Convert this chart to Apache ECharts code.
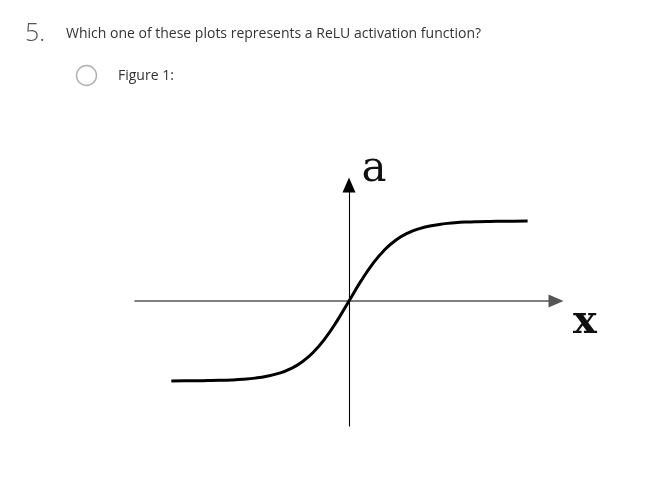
<!DOCTYPE html>
<html>
<head>
<meta charset="utf-8">
<script src="https://cdn.jsdelivr.net/npm/echarts@6/dist/echarts.min.js"></script>
<style>
html,body{margin:0;padding:0;background:#fff;}
#chart{width:646px;height:481px;}
</style>
</head>
<body>
<div id="chart"></div>
<script>
// Values (x in curve units, a = activation)
var xValues = [-3.78, -3.5, -3.25, -3, -2.75, -2.5, -2.25, -2, -1.75, -1.5, -1.25, -1, -0.75, -0.5, -0.25, 0,
               0.25, 0.5, 0.75, 1, 1.25, 1.5, 1.75, 2, 2.25, 2.5, 2.75, 3, 3.25, 3.5, 3.8];
var aValues = [-0.999, -0.998, -0.997, -0.995, -0.992, -0.987, -0.978, -0.964, -0.941, -0.905, -0.848, -0.762, -0.635, -0.462, -0.245, 0,
               0.245, 0.462, 0.635, 0.762, 0.848, 0.905, 0.941, 0.964, 0.978, 0.987, 0.992, 0.995, 0.997, 0.998, 0.999];
var questionNumber = '5.';
var questionText = 'Which one of these plots represents a ReLU activation function?';
var optionText = 'Figure 1:';
var xName = 'x';
var yName = 'a';

var curve = xValues.map(function (x, i) { return [x, aValues[i]]; });

var chart = echarts.init(document.getElementById('chart'));
chart.setOption({
  backgroundColor: '#ffffff',
  animation: false,
  grid: { left: 135, right: 90, top: 185, bottom: 55, containLabel: false },
  xAxis: {
    type: 'value', min: -4.553, max: 4.404,
    axisLine: { show: true, onZero: true, symbol: ['none', 'triangle'], symbolSize: [13, 15],
      lineStyle: { color: '#555', width: 1.6 } },
    axisTick: { show: false }, axisLabel: { show: false }, splitLine: { show: false }
  },
  yAxis: {
    type: 'value', min: -1.5625, max: 1.45,
    axisLine: { show: true, onZero: true, symbol: ['none', 'triangle'], symbolSize: [13, 15],
      lineStyle: { color: '#000', width: 1.1 } },
    axisTick: { show: false }, axisLabel: { show: false }, splitLine: { show: false }
  },
  series: [{
    type: 'line', data: curve, smooth: true, showSymbol: false,
    lineStyle: { color: '#000', width: 3 }, z: 3
  }],
  graphic: [
    { type: 'text', left: 25, top: 21, style: { text: questionNumber, font: '300 25px "Open Sans"', fill: '#555' } },
    { type: 'text', x: 66, y: 34, style: { text: questionText, font: '14px "Open Sans"', fill: '#333', verticalAlign: 'middle' } },
    { type: 'circle', shape: { cx: 86.5, cy: 75.5, r: 10 }, style: { fill: '#fff', stroke: '#b0b0b0', lineWidth: 1.4 } },
    { type: 'text', x: 118, y: 76, style: { text: optionText, font: '14px "Open Sans"', fill: '#333', verticalAlign: 'middle' } },
    { type: 'text', x: 374, y: 191, style: { text: yName, font: '42px "DejaVu Serif"', fill: '#111', align: 'center', verticalAlign: 'bottom' } },
    { type: 'text', x: 585, y: 343, style: { text: xName, font: 'bold 40px "DejaVu Serif"', fill: '#111', align: 'center', verticalAlign: 'bottom' } }
  ]
});
</script>
</body>
</html>
